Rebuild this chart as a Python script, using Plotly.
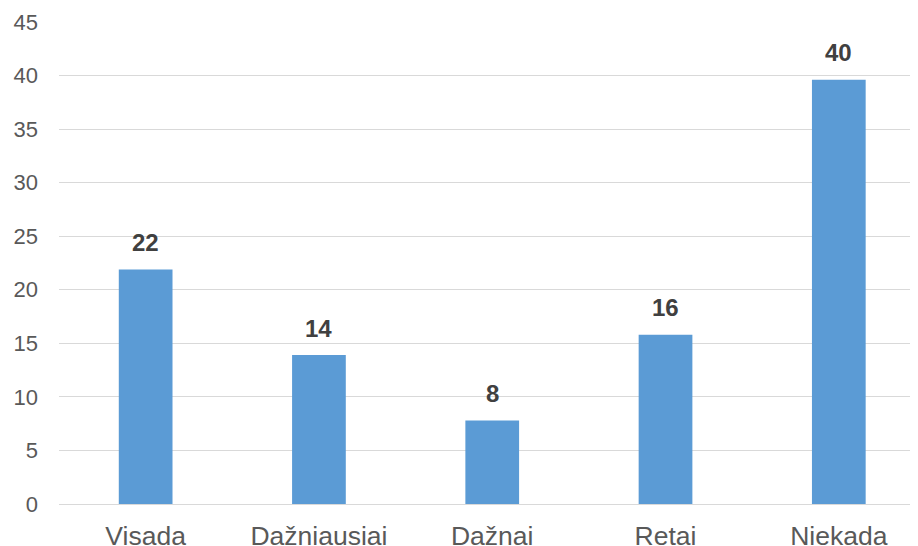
import plotly.graph_objects as go

categories = ["Visada", "Dažniausiai", "Dažnai", "Retai", "Niekada"]
values = [21.9, 13.9, 7.8, 15.8, 39.6]
labels = ["22", "14", "8", "16", "40"]
y_ticks = [0, 5, 10, 15, 20, 25, 30, 35, 40, 45]

fig = go.Figure()
fig.add_trace(go.Bar(
    x=categories, y=values,
    marker=dict(color="#5B9BD5", line=dict(width=0)),
    hoverinfo="skip",
))

for c, v, t in zip(categories, values, labels):
    fig.add_annotation(
        x=c, y=v, text="<b>" + t + "</b>", showarrow=False,
        yshift=27, yanchor="middle",
        font=dict(family="Liberation Sans, Arial, sans-serif", size=24, color="#404040"),
    )

# page body has an 8px margin, so the figure is sized/positioned to compensate
fig.update_layout(
    width=910, height=538,
    margin=dict(l=51, r=0, t=14, b=42, autoexpand=False),
    paper_bgcolor="white", plot_bgcolor="white",
    bargap=0.69,
    showlegend=False,
    font=dict(family="Liberation Sans, Arial, sans-serif", size=21, color="#595959"),
)
fig.update_xaxes(
    range=[-0.5, 4.457], showgrid=False, showline=False, zeroline=False,
    ticks="", ticklabelstandoff=13, automargin=False,
    tickfont=dict(size=26.5, color="#595959"),
)
fig.update_yaxes(
    range=[0, 45], tickvals=y_ticks, showgrid=True, gridcolor="#D9D9D9", gridwidth=1.3,
    zeroline=True, zerolinecolor="#D9D9D9", zerolinewidth=1.3, showline=False,
    ticks="", ticklabelstandoff=20, automargin=False,
    tickfont=dict(size=22, color="#595959"),
)

fig.write_html("out.html")
